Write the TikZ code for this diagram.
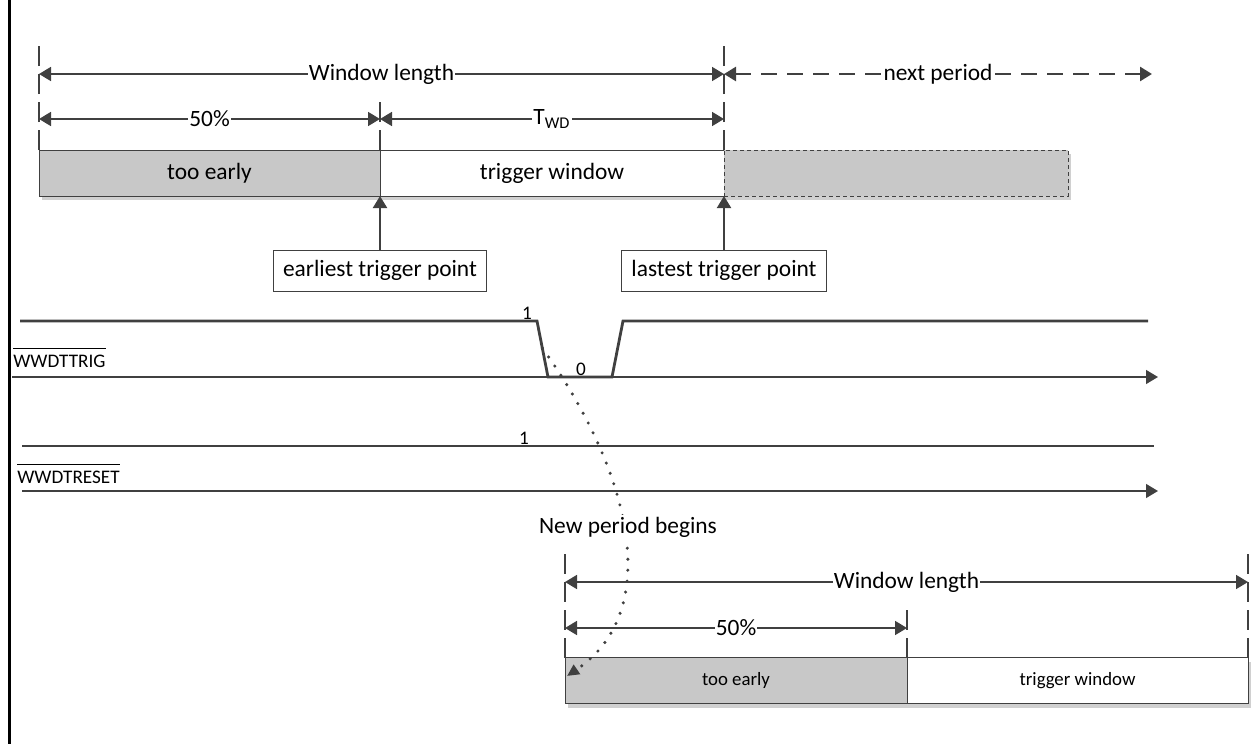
\documentclass[tikz,border=0pt]{standalone}
\usepackage{fontspec}
\setmainfont{Carlito}
\usetikzlibrary{arrows.meta, positioning, shadows}

\definecolor{linegray}{HTML}{404040}
\definecolor{boxgray}{HTML}{C8C8C8}
\definecolor{shadegray}{HTML}{D0D0D0}

% signal name with a bar over it
\newcommand\barsig[1]{\vbox{\hrule height 0.6pt \kern 2.8pt \hbox{#1}}}

\tikzset{
  dim/.style={linegray, line width=0.9pt, {Triangle[length=6pt, width=7pt]}-{Triangle[length=6pt, width=7pt]}},
  ptr/.style={linegray, line width=1pt, -{Triangle[length=6pt, width=7pt]}},
  guide/.style={linegray, line width=1.4pt, dash pattern=on 10pt off 4pt},
  lbl/.style={fill=white, text=black, inner xsep=0.5pt, inner ysep=0pt, font=\fontsize{11.7}{13}\selectfont},
  slot/.style={draw=linegray, line width=0.5pt, inner sep=0pt, outer sep=0pt,
    minimum height=23pt, font=\fontsize{11.7}{13}\selectfont,
    drop shadow={shadow xshift=1.5pt, shadow yshift=-2pt, fill=shadegray, opacity=1}},
  note/.style={draw=linegray, line width=0.5pt, fill=white, outer sep=0pt,
    inner xsep=5pt, minimum height=20.5pt, font=\fontsize{11.7}{13}\selectfont},
  sig/.style={linegray, line width=1.4pt},
  axis/.style={linegray, line width=0.7pt, -{Triangle[length=6pt, width=7pt]}},
  small/.style={font=\fontsize{9.6}{11}\selectfont, inner sep=0pt},
}

\begin{document}
\begin{tikzpicture}[x=0.5pt, y=-0.5pt]
  \useasboundingbox (0,0) rectangle (1253,744);

  % Left border
  \draw [black, line width=1.5pt] (9,0) -- (9,744);

  % Current period
  \node [slot, fill=boxgray, minimum width=170.5pt] (early) at (209.5,173) {too early};
  \node [slot, fill=white, minimum width=172pt, right=0pt of early] (trig) {trigger window};
  \node [slot, fill=boxgray, minimum width=172pt, right=0pt of trig,
    dash pattern=on 2pt off 1.5pt] (next) {};

  \draw [guide] (early.north west) -- ++(0,-110);
  \draw [guide] (early.north east) -- ++(0,-50);
  \draw [guide] (trig.north east) -- ++(0,-110);

  \coordinate (lvlA) at (0,74);
  \coordinate (lvlB) at (0,119);
  \coordinate (nextend) at (1152,74);

  \draw [dim] (early.north west |- lvlA) -- node [lbl] {Window length} (trig.north east |- lvlA);
  \draw [dim, line width=1.3pt, dash pattern=on 8pt off 5pt] (trig.north east |- lvlA) -- node [lbl] {next period} (nextend);
  \draw [dim] (early.north west |- lvlB) -- node [lbl] {50\%} (early.north east |- lvlB);
  \draw [dim] (trig.north west |- lvlB) -- node [lbl] {T\textsubscript{WD}} (trig.north east |- lvlB);

  % Trigger points
  \node [note, below=27pt of early.south east] (first) {earliest trigger point};
  \node [note, below=27pt of trig.south east] (last) {lastest trigger point};
  \draw [ptr] (first) -- (early.south east);
  \draw [ptr] (last) -- (trig.south east);

  % WWDTTRIG
  \draw [sig] (20,321) -- (537,321) -- (548,377) -- (612,377) -- (623,321) -- (1148,321);
  \draw [axis] (12,377) -- (1158,377);
  \node [small, anchor=base west] (trigname) at (13,367) {\barsig{WWDTTRIG}};
  \node [small] (trighi) at (527,313) {1};
  \node [small] (triglo) at (581,369) {0};

  % WWDTRESET
  \draw [sig] (22,446) -- (1154,446);
  \draw [axis] (22,491) -- (1158,491);
  \node [small, anchor=base west] (rstname) at (17,483) {\barsig{WWDTRESET}};
  \node [small] (rsthi) at (524,438) {1};

  % Next period
  \node [slot, fill=boxgray, minimum width=171pt, font=\fontsize{9.4}{11}\selectfont] (early2) at (736,680.5) {too early};
  \node [slot, fill=white, minimum width=170.5pt, right=0pt of early2, font=\fontsize{9.4}{11}\selectfont] (trig2) {trigger window};

  \draw [guide] (early2.north west) -- ++(0,-110);
  \draw [guide] (early2.north east) -- ++(0,-50);
  \draw [guide] (trig2.north east) -- ++(0,-110);

  \coordinate (lvlC) at (0,582);
  \coordinate (lvlD) at (0,628);
  \draw [dim] (early2.north west |- lvlC) -- node [lbl] {Window length} (trig2.north east |- lvlC);
  \draw [dim] (early2.north west |- lvlD) -- node [lbl] {50\%} (early2.north east |- lvlD);

  % Dotted hint from the falling edge
  \coordinate (fall) at (542.3,348);
  \coordinate (restart) at (567,676);
  \draw [linegray, line width=1.7pt, line cap=round, dash pattern=on 0pt off 5.5pt, -{Triangle[length=6pt, width=5.5pt]}]
    (fall) .. controls (630,470) and (665,610) .. (restart);
  \node [lbl, inner ysep=1pt] (begins) at (628,527) {New period begins};

\end{tikzpicture}
\end{document}
